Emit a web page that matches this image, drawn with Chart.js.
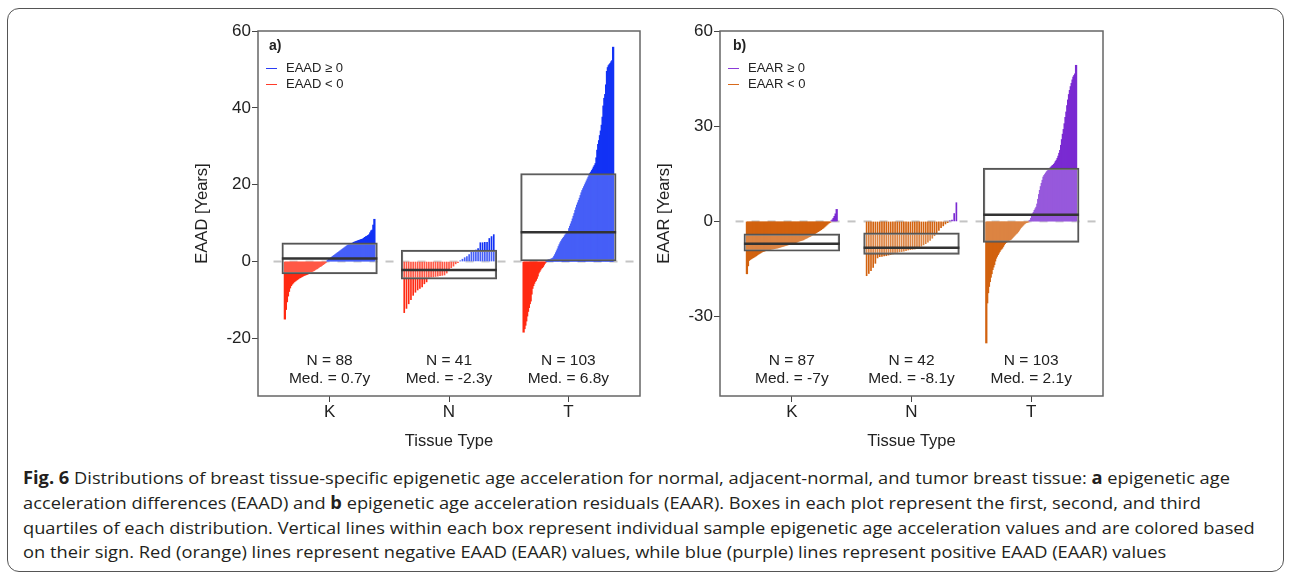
<!DOCTYPE html>
<html>
<head>
<meta charset="utf-8">
<script src="https://cdn.jsdelivr.net/npm/chart.js@4.4.1/dist/chart.umd.min.js"></script>
<style>
  body { margin: 0; background: #fff; }
  #fig { position: relative; width: 1292px; height: 578px; overflow: hidden;
         font-family: "Liberation Sans", Arial, sans-serif; color: #222; }
  #frame { position: absolute; left: 7px; top: 8px; width: 1277px; height: 564px;
           border: 1.5px solid #555; border-radius: 12px; box-sizing: border-box; }
  canvas { position: absolute; top: 0; }
  .note { position: absolute; top: 351px; width: 140px; margin-left: -70px; text-align: center;
          font-size: 15.5px; line-height: 18px; }
  .leg { position: absolute; font-size: 13px; line-height: 15px; white-space: nowrap; }
  .leg i { display: inline-block; width: 11px; height: 0; border-top: 1.6px solid; vertical-align: middle; margin-right: 9px; }
  .tag { position: absolute; top: 36px; font-size: 14px; line-height: 18px; font-weight: bold; }
  .cap { position: absolute; left: 23px; font-family: "Open Sans", sans-serif; font-size: 17px;
         line-height: 22px; white-space: nowrap; transform-origin: 0 50%; color: #231f20; }
</style>
</head>
<body>
<div id="fig">
  <div id="frame"></div>
  <canvas id="chartA" width="449" height="451" style="left:193px"></canvas>
  <canvas id="chartB" width="450" height="451" style="left:655px"></canvas>

  <div class="tag" style="left:269px">a)</div>
  <div class="leg" style="left:266px;top:60px"><i style="color:#2a3cf5"></i>EAAD ≥ 0</div>
  <div class="leg" style="left:266px;top:76px"><i style="color:#ff3b2a"></i>EAAD &lt; 0</div>

  <div class="tag" style="left:733px">b)</div>
  <div class="leg" style="left:728px;top:60px"><i style="color:#8a3ad8"></i>EAAR ≥ 0</div>
  <div class="leg" style="left:728px;top:76px"><i style="color:#d86a1c"></i>EAAR &lt; 0</div>

  <div class="cap" style="top:467px"><b>Fig. 6</b> Distributions of breast tissue-specific epigenetic age acceleration for normal, adjacent-normal, and tumor breast tissue: <b>a</b> epigenetic age</div>
  <div class="cap" style="top:492px">acceleration differences (EAAD) and <b>b</b> epigenetic age acceleration residuals (EAAR). Boxes in each plot represent the first, second, and third</div>
  <div class="cap" style="top:517px">quartiles of each distribution. Vertical lines within each box represent individual sample epigenetic age acceleration values and are colored based</div>
  <div class="cap" style="top:541px">on their sign. Red (orange) lines represent negative EAAD (EAAR) values, while blue (purple) lines represent positive EAAD (EAAR) values</div>
</div>

<script>
const groups = ['K', 'N', 'T'];

// panel a: EAAD per sample, sorted
const eaadK = [-15.0, -12.5, -10.5, -9.0, -7.8, -6.9, -6.3, -5.9, -5.6, -5.3,
  -5.1, -4.9, -4.7, -4.5, -4.3, -4.2, -4.0, -3.9, -3.7, -3.6,
  -3.5, -3.4, -3.3, -3.1, -3.0, -2.8, -2.7, -2.5, -2.4, -2.2,
  -2.0, -1.9, -1.7, -1.5, -1.3, -1.2, -1.0, -0.8, -0.6, -0.4,
  -0.2, 0.1, 0.4, 0.6, 0.8, 1.0, 1.2, 1.4, 1.6, 1.8,
  2.0, 2.2, 2.4, 2.6, 2.8, 3.0, 3.2, 3.4, 3.6, 3.8,
  4.0, 4.2, 4.4, 4.5, 4.6, 4.7, 4.8, 5.0, 5.1, 5.2,
  5.3, 5.4, 5.5, 5.6, 5.7, 5.8, 5.9, 6.1, 6.3, 6.5,
  6.6, 6.8, 7.0, 7.5, 8.0, 8.2, 9.5, 11.0];
const eaadN = [-13.3, -12.2, -11.0, -9.9, -8.8, -8.0, -7.4, -7.0, -6.6, -5.8,
  -5.3, -4.4, -4.1, -4.0, -3.9, -3.8, -3.7, -3.6, -3.5, -3.0,
  -2.3, -1.6, -1.2, -0.6, -0.3, 0.2, 0.6, 1.0, 1.3, 1.8,
  2.4, 2.9, 3.0, 3.4, 4.9, 4.9, 5.0, 5.0, 6.0, 6.5,
  7.0];
const eaadT = [-18.4, -17.5, -16.6, -15.5, -14.2, -13.0, -12.0, -11.0, -10.3, -8.5,
  -7.0, -6.3, -5.7, -5.2, -4.9, -4.4, -3.8, -3.0, -2.6, -2.2,
  -1.8, -1.6, -1.3, -0.9, -0.5, -0.2, 0.1, 0.3, 0.4, 0.5,
  0.5, 0.6, 0.7, 0.8, 1.0, 1.4, 1.8, 2.3, 2.8, 3.3,
  3.9, 4.4, 4.9, 5.3, 5.7, 6.0, 6.3, 6.7, 7.0, 7.3,
  7.5, 7.7, 8.6, 9.2, 9.8, 10.4, 11.1, 11.8, 12.5, 13.3,
  14.0, 14.7, 15.3, 15.9, 16.5, 17.2, 17.9, 18.5, 19.0, 19.5,
  20.0, 20.5, 21.0, 21.5, 22.0, 22.5, 23.0, 23.3, 23.7, 24.1,
  24.6, 25.0, 25.5, 27.0, 29.0, 30.5, 31.5, 32.8, 34.0, 35.5,
  37.6, 40.5, 42.5, 43.5, 46.0, 49.5, 50.5, 51.0, 51.3, 51.6,
  52.0, 52.3, 55.8];

// panel b: EAAR per sample, sorted
const eaarK = [-16.5, -14.0, -12.3, -12.0, -11.8, -11.6, -11.4, -11.2, -11.0, -10.8,
  -10.5, -10.3, -10.1, -9.9, -9.7, -9.5, -9.4, -9.3, -9.2, -9.1,
  -9.0, -8.9, -8.9, -8.8, -8.7, -8.7, -8.6, -8.5, -8.4, -8.4,
  -8.3, -8.2, -8.1, -8.0, -7.9, -7.8, -7.7, -7.6, -7.5, -7.4,
  -7.3, -7.2, -7.1, -7.0, -6.9, -6.8, -6.7, -6.6, -6.5, -6.3,
  -6.2, -6.1, -6.0, -5.9, -5.8, -5.6, -5.4, -5.3, -5.1, -4.9,
  -4.8, -4.6, -4.4, -4.2, -4.0, -3.8, -3.6, -3.4, -3.2, -3.0,
  -2.8, -2.6, -2.3, -2.1, -1.8, -1.5, -1.2, -0.9, -0.6, -0.4,
  -0.2, 0.2, 0.5, 1.0, 1.6, 2.4, 3.8];
const eaarN = [-17.1, -16.4, -15.5, -14.5, -13.2, -11.5, -11.1, -11.0, -10.9, -10.8,
  -10.6, -10.4, -10.2, -10.0, -9.8, -9.6, -9.5, -9.4, -9.2, -9.0,
  -8.9, -8.8, -8.7, -8.6, -8.3, -7.8, -7.4, -7.0, -6.5, -6.0,
  -5.3, -4.5, -3.8, -2.8, -2.0, -1.4, -0.8, -0.4, 0.2, 0.4,
  2.5, 5.9];
const eaarT = [-38.3, -25.7, -22.5, -20.5, -19.0, -17.6, -16.5, -15.2, -14.4, -13.6,
  -12.5, -11.6, -11.0, -10.5, -10.0, -9.5, -9.0, -8.7, -8.4, -7.9,
  -7.4, -7.0, -6.7, -6.5, -6.3, -6.1, -5.9, -5.8, -5.6, -5.3,
  -5.0, -4.7, -4.4, -4.1, -3.8, -3.6, -3.2, -2.8, -2.4, -2.0,
  -1.7, -1.4, -1.1, -0.8, -0.6, -0.4, -0.3, -0.2, -0.1, 0.2,
  0.4, 1.0, 1.8, 2.4, 2.9, 3.5, 4.0, 4.5, 5.5, 7.0,
  8.5, 9.8, 11.0, 12.0, 13.0, 14.0, 14.5, 14.9, 15.3, 15.7,
  16.0, 16.3, 16.6, 16.9, 17.2, 17.5, 17.7, 18.0, 18.4, 18.9,
  19.3, 19.9, 20.6, 21.5, 22.4, 24.0, 25.8, 27.5, 29.0, 30.8,
  32.8, 34.5, 36.5, 38.3, 40.0, 41.3, 42.5, 43.5, 44.6, 45.5,
  46.0, 46.5, 49.2];

// quartile boxes as drawn
const eaadQ1 = [-3.2, -4.6, 0.0];
const eaadMed = [0.8, -2.2, 7.6];
const eaadQ3 = [4.85, 2.95, 22.9];
const eaarQ1 = [-9.4, -10.4, -6.6];
const eaarMed = [-7.0, -8.3, 2.1];
const eaarQ3 = [-3.9, -3.6, 16.8];

const eaadCounts = [88, 41, 103];
const eaadMedText = ['0.7', '-2.3', '6.8'];
const eaarCounts = [87, 42, 103];
const eaarMedText = ['-7', '-8.1', '2.1'];

const eaadTicks = [-20, 0, 20, 40, 60];
const eaarTicks = [-30, 0, 30, 60];

const BOX_HALF = 0.4;
const LINE_HALF = 0.375;

const plotFrame = {
    id: 'plotFrame',
    afterDraw(chart) {
        const { ctx, chartArea: a } = chart;
        ctx.save();
        ctx.strokeStyle = '#666';
        ctx.lineWidth = 1.5;
        ctx.strokeRect(a.left, a.top, a.right - a.left, a.bottom - a.top);
        ctx.restore();
    }
};

function sampleBars(values, k, pos, neg, thick) {
    const n = values.length;
    return {
        type: 'bar',
        data: values.map((v, i) => ({ x: k - LINE_HALF + 2 * LINE_HALF * i / (n - 1), y: v })),
        backgroundColor: (c) => (c.raw && c.raw.y >= 0 ? pos : neg),
        borderWidth: 0,
        barThickness: thick,
        grouped: false,
        order: 2
    };
}

function makePanel(id, opt) {
    const datasets = [];
    datasets.push({
        type: 'line',
        data: [{ x: 0.53, y: 0 }, { x: 3.6, y: 0 }],
        borderColor: '#c4c4c4', borderWidth: 2, borderDash: [8, 8],
        pointRadius: 0, order: 3
    });
    opt.series.forEach((vals, i) => {
        datasets.push(sampleBars(vals, i + 1, opt.pos, opt.neg, i === 1 ? 1 : 1.6));
    });
    const boxes = {
        type: 'bar',
        data: groups.map((g, i) => ({ x: i + 1, y: [opt.q1[i], opt.q3[i]] })),
        backgroundColor: 'rgba(255,255,255,0.22)',
        borderColor: '#555', borderWidth: 1.5, borderSkipped: false,
        barThickness: 90, grouped: false, order: 1
    };
    datasets.push(boxes);
    const medPts = [];
    opt.med.forEach((m, i) => {
        if (i > 0) medPts.push({ x: i + 0.5, y: null });
        medPts.push({ x: i + 1 - BOX_HALF, y: m }, { x: i + 1 + BOX_HALF, y: m });
    });
    datasets.push({
        type: 'line', data: medPts, borderColor: '#333', borderWidth: 2.5,
        pointRadius: 0, spanGaps: false, order: 0
    });

    const tickFont = { family: '"Liberation Sans", Arial, sans-serif', size: 17 };
    const titleFont = { family: '"Liberation Sans", Arial, sans-serif', size: 16.5 };
    const chart = new Chart(document.getElementById(id), {
        type: 'bar',
        data: { datasets },
        options: {
            responsive: false,
            animation: false,
            events: [],
            layout: { padding: { top: 31, right: 2, left: 0, bottom: 0 } },
            plugins: { legend: { display: false }, tooltip: { enabled: false } },
            scales: {
                x: {
                    type: 'linear', min: 0.4, max: 3.6, offset: false,
                    grid: { offset: false, drawOnChartArea: false, drawTicks: true, tickLength: 6, color: '#444' },
                    border: { display: false },
                    afterBuildTicks: (s) => { s.ticks = groups.map((g, i) => ({ value: i + 1 })); },
                    afterFit: (s) => { s.height = 55; },
                    ticks: { autoSkip: false, maxRotation: 0, padding: 0, color: '#222', font: tickFont,
                             callback: (v) => groups[v - 1] },
                    title: { display: true, text: 'Tissue Type', color: '#222', font: titleFont, padding: 0 }
                },
                y: {
                    min: opt.min, max: 60,
                    grid: { drawOnChartArea: false, drawTicks: true, tickLength: 6, color: '#444' },
                    border: { display: false },
                    afterBuildTicks: (s) => { s.ticks = opt.ticks.map((v) => ({ value: v })); },
                    afterFit: (s) => { s.width = 65; },
                    ticks: { padding: 1, color: '#222', font: tickFont },
                    title: { display: true, text: opt.title, color: '#222', font: titleFont, padding: 0 }
                }
            }
        },
        plugins: [plotFrame]
    });

    // box width from the x scale: 0.8 of a category step
    const xs = chart.scales.x;
    boxes.barThickness = xs.getPixelForValue(1 + BOX_HALF) - xs.getPixelForValue(1 - BOX_HALF);
    chart.update('none');

    const fig = document.getElementById('fig');
    const left = parseFloat(document.getElementById(id).style.left);
    groups.forEach((g, i) => {
        const div = document.createElement('div');
        div.className = 'note';
        div.style.left = (left + xs.getPixelForValue(i + 1)) + 'px';
        div.innerHTML = `N = ${opt.counts[i]}<br>Med. = ${opt.medText[i]}y`;
        fig.appendChild(div);
    });
    return chart;
}

makePanel('chartA', {
    series: [eaadK, eaadN, eaadT],
    q1: eaadQ1, med: eaadMed, q3: eaadQ3,
    counts: eaadCounts, medText: eaadMedText,
    ticks: eaadTicks, min: -35, title: 'EAAD [Years]',
    pos: '#1232f5', neg: '#ff2a12'
});
makePanel('chartB', {
    series: [eaarK, eaarN, eaarT],
    q1: eaarQ1, med: eaarMed, q3: eaarQ3,
    counts: eaarCounts, medText: eaarMedText,
    ticks: eaarTicks, min: -55, title: 'EAAR [Years]',
    pos: '#7a2ad2', neg: '#d2620f'
});

// stretch caption lines to the printed width
const caps = document.querySelectorAll('.cap');
const k = 1232 / caps[2].scrollWidth;
caps.forEach((c) => { c.style.transform = `scaleX(${k})`; });
</script>
</body>
</html>
